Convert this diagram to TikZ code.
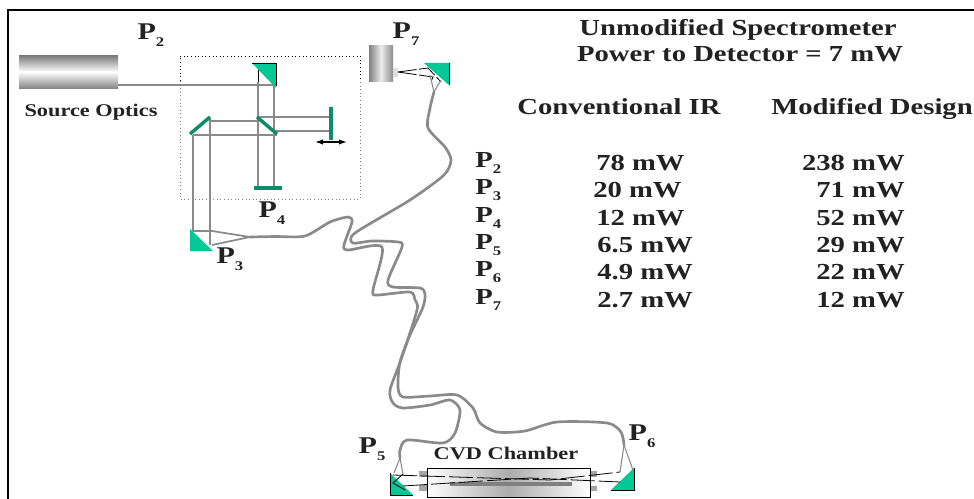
\documentclass[tikz,border=0pt]{standalone}
\usepackage{fontspec}
\setmainfont[FakeStretch=1.25]{Liberation Serif}
\usetikzlibrary{arrows.meta}
\definecolor{teal1}{HTML}{00C896}
\definecolor{teal2}{HTML}{108C6C}
\definecolor{beam}{HTML}{8A8A8A}
\definecolor{ink}{HTML}{222222}
\tikzset{
 beamline/.style={draw=beam,line width=1.3pt},
 fibre/.style={draw=beam,line width=2pt,line cap=round,line join=round},
 flat/.style={draw=teal2,line width=2.6pt},
 prism/.style={fill=teal1,draw=none},
 ray/.style={draw=black,line width=.6pt,dash pattern=on 18pt off 3pt},
 small/.style={font=\bfseries\fontsize{13.4}{15}\selectfont,text=ink,inner sep=0pt},
 head/.style={font=\bfseries\fontsize{17.2}{19}\selectfont,text=ink,inner sep=0pt,anchor=base},
 cell/.style={font=\bfseries\fontsize{17.2}{19}\selectfont,text=ink,inner sep=0pt},
 plab/.style={font=\bfseries\fontsize{18}{20}\selectfont,text=ink,inner sep=0pt},
}
\newcommand{\Pn}[1]{P\raisebox{-.28em}{\fontsize{10}{11}\selectfont #1}}
\begin{document}
\begin{tikzpicture}[x=0.75pt,y=-0.75pt]
\useasboundingbox (0,0) rectangle (974,499);
\fill[white] (0,0) rectangle (974,499);
\draw[black,line width=1pt] (8,499) -- (8,10) -- (974,10);
% source
\shade[top color=gray,bottom color=white] (19,56) rectangle (118,72);
\shade[top color=white,bottom color=gray] (19,72) rectangle (118,89);
\node[small] (src) at (91,112) {Source Optics};
% interferometer box
\draw[black,line width=.7pt,dotted] (180,81) -- (180,56) -- (360,56) -- (360,81);
\draw[gray,line width=.7pt,dotted] (180,81) -- (180,199) -- (360,199) -- (360,81);
% beams
\draw[beamline] (118,85) -- (275,85);
\draw[beamline] (258,82) -- (258,188);
\draw[black,line width=.6pt] (258,70) -- (258,82);
\draw[beamline] (274,85) -- (274,188);
\draw[beamline] (210,121) -- (258,121);
\draw[beamline] (193,135) -- (277,135);
\draw[beamline] (258,117) -- (331,117);
\draw[beamline] (274,131) -- (331,131);
\draw[beamline] (193,135) -- (193,232);
\draw[beamline] (210,118) -- (210,245);
\draw[beamline] (193,231) -- (212,231) -- (250,237) -- (212,245);
% mirrors
\fill[prism] (252,63) -- (276,63) -- (276,88) -- cycle;
\draw[black,line width=.6pt] (252,63) -- (276,63) -- (276,86);
\draw[flat] (190,134) -- (210,117);
\draw[flat] (257,117) -- (277,134);
\draw[flat] (254,188) -- (282,188);
\draw[flat] (331,107) -- (331,140);
\draw[black,line width=.9pt,{Latex[length=6pt,width=4pt]}-{Latex[length=6pt,width=4pt]}] (315,142) -- (347,142);
\fill[prism] (190,229) -- (190,251) -- (213,251) -- cycle;
% detector
\shade[left color=gray,right color=gray!90,middle color=gray!15] (369,46) rectangle (393,82);
\fill[gray!25] (393,68) rectangle (398,77);
\fill[prism] (424,63) -- (450,63) -- (450,86) -- cycle;
\draw[black,line width=.6pt] (449,63) -- (449,84);
\draw[ray,dash pattern=on 14pt off 2pt] (398,72) -- (428,68) -- (441,82);
\draw[ray,dash pattern=on 14pt off 2pt] (398,72) -- (433,77) -- (430,84);
\draw[beam,line width=.8pt] (434,92) -- (430,75);
\draw[beam,line width=.8pt] (434,92) -- (441,80);
% fibres
\draw[fibre] plot[smooth,tension=.45] coordinates {(434,92) (430,108) (428,128) (445,147) (451,160) (444,175) (410,200) (355,233) (353,243) (372,241) (398,242) (402,247) (388,280) (393,287) (420,288) (425,294) (423,307) (410,335) (400,362) (398,387) (403,397) (430,396) (457,395) (473,408) (480,423) (497,432) (525,431) (557,422) (607,423) (621,432) (624,445)};
\draw[fibre] plot[smooth,tension=.45] coordinates {(250,237) (275,236.500) (305,236) (330,222) (348,217) (352,222) (344,245) (348,250) (382,247) (373,290) (377,295) (410,292) (415,300) (417,310) (402,357) (390,390) (393,403) (403,408) (430,405) (450,400) (460,410) (455,433) (443,443) (407,440) (400,450) (400,458)};
% chamber
\fill[gray!70] (419,471) rectangle (427,477);
\fill[gray!70] (419,485) rectangle (427,491);
\fill[gray!70] (590,471) rectangle (597,477);
\fill[gray!70] (590,486) rectangle (597,491);
\shade[left color=white,right color=white,middle color=gray!65,draw=black,line width=.7pt] (427,468) rectangle (590,497);
\fill[gray] (450,482) rectangle (572,486);
\fill[prism] (390,473) -- (390,495) -- (413,495) -- cycle;
\draw[black,line width=.6pt] (390,473) -- (390,495) -- (413,495);
\fill[prism] (634,468) -- (634,490) -- (611,490) -- cycle;
\draw[black,line width=.6pt] (634,468) -- (634,490) -- (611,490);
\draw[beam,line width=.8pt] (400,458) -- (394,473);
\draw[beam,line width=.8pt] (400,458) -- (403,474);
\draw[beam,line width=.8pt] (624,445) -- (620,472);
\draw[beam,line width=.8pt] (624,445) -- (633,470);
\draw[ray] (393,475) -- (550,480) -- (620,472);
\draw[ray] (403,486) -- (530,478) -- (620,482);
\draw[black,line width=.6pt] (403,474) -- (393,483) -- (405,490);
% P labels
\node[plab] (p2) at (151,35) {\Pn{2}};
\node[plab] (p7) at (406,34) {\Pn{7}};
\node[plab] (p4) at (272,213) {\Pn{4}};
\node[plab] (p3) at (230,259) {\Pn{3}};
\node[plab] (p5) at (372,449) {\Pn{5}};
\node[plab] (p6) at (642,436) {\Pn{6}};
\node[small] (cvd) at (506,453) {CVD Chamber};
% headers
\node[head] (h1) at (738,36) {Unmodified Spectrometer};
\node[head] (h2) at (740,62) {Power to Detector = 7 mW};
\node[head] (c1) at (619,115) {Conventional IR};
\node[head] (c2) at (872,115) {Modified Design};
% table
\foreach \y/\n/\a/\b/\ax [count=\i] in {163/2/78 mW/238 mW/596,190/3/20 mW/71 mW/593,218/4/12 mW/52 mW/596,245/5/6.5 mW/29 mW/597,272/6/4.9 mW/22 mW/597,300/7/2.7 mW/12 mW/597}{
  \node[cell,anchor=west] (r\i) at (475,\y) {\Pn{\n}};
  \node[cell,anchor=west] (a\i) at (\ax,\y) {\a};
  \node[cell,anchor=east] (b\i) at (905,\y) {\b};
}
\end{tikzpicture}
\end{document}
